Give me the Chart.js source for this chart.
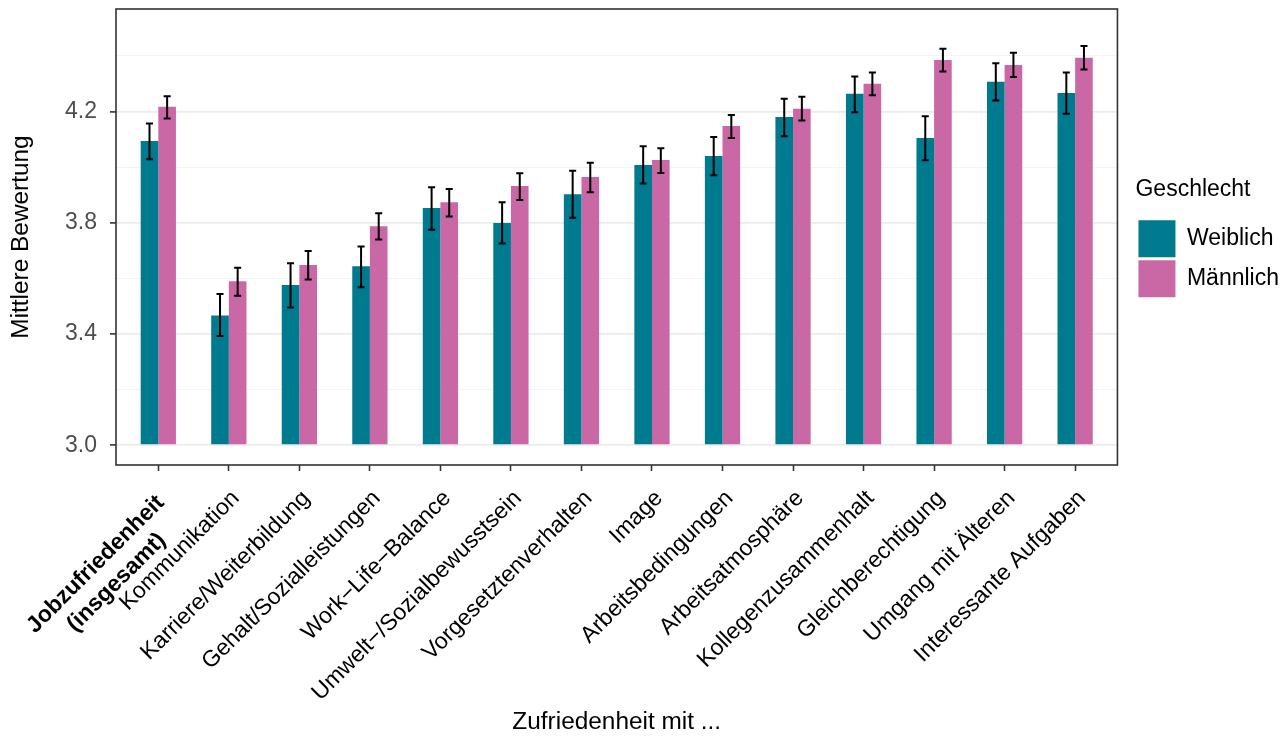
<!DOCTYPE html>
<html>
<head>
<meta charset="utf-8">
<script src="https://cdn.jsdelivr.net/npm/chart.js@4"></script>
<style>
  html, body { margin: 0; padding: 0; background: #fff; }
  #wrap { width: 1284px; height: 738px; }
</style>
</head>
<body>
<div id="wrap"><canvas id="chart" width="1284" height="738"></canvas></div>
<script>
// categories, left to right (trailing spaces centre the two lines of the first label)
var categories = [
  ['Jobzufriedenheit ', '(insgesamt)     '],
  'Kommunikation',
  'Karriere/Weiterbildung',
  'Gehalt/Sozialleistungen',
  'Work\u2212Life\u2212Balance',
  'Umwelt\u2212/Sozialbewusstsein',
  'Vorgesetztenverhalten',
  'Image',
  'Arbeitsbedingungen',
  'Arbeitsatmosphäre',
  'Kollegenzusammenhalt',
  'Gleichberechtigung',
  'Umgang mit Älteren',
  'Interessante Aufgaben'
];
var seriesNames = ['Weiblich', 'Männlich'];

// mean ratings
var weiblich  = [4.094, 3.467, 3.576, 3.644, 3.853, 3.799, 3.903, 4.008, 4.040, 4.181, 4.264, 4.105, 4.307, 4.267];
var maennlich = [4.217, 3.590, 3.648, 3.788, 3.874, 3.932, 3.965, 4.026, 4.148, 4.210, 4.300, 4.386, 4.368, 4.394];

// error bar ends
var weiblichLo  = [4.029, 3.393, 3.495, 3.568, 3.775, 3.726, 3.818, 3.941, 3.971, 4.111, 4.198, 4.025, 4.240, 4.192];
var weiblichHi  = [4.157, 3.544, 3.655, 3.715, 3.928, 3.874, 3.987, 4.075, 4.109, 4.246, 4.326, 4.183, 4.374, 4.341];
var maennlichLo = [4.175, 3.538, 3.596, 3.740, 3.823, 3.882, 3.910, 3.979, 4.105, 4.168, 4.259, 4.344, 4.324, 4.351];
var maennlichHi = [4.255, 3.638, 3.699, 3.834, 3.922, 3.978, 4.016, 4.068, 4.188, 4.253, 4.341, 4.426, 4.412, 4.436];

// y axis ticks (labelled ones get a number, the others are minor grid lines)
var yTicks = [3.0, 3.2, 3.4, 3.6, 3.8, 4.0, 4.2, 4.4];
var yTickLabels = ['3.0', '3.4', '3.8', '4.2'];

var colors = ['#007A8E', '#CA68A5'];

Chart.defaults.font.family = "'Liberation Sans', Arial, sans-serif";
Chart.defaults.color = '#000';

function isMajor(v) {
  return yTickLabels.indexOf(v.toFixed(1)) >= 0;
}

var errorBars = {
  id: 'errorBars',
  afterDatasetsDraw: function (chart) {
    var ctx = chart.ctx;
    var y = chart.scales.y;
    var ends = [[weiblichLo, weiblichHi], [maennlichLo, maennlichHi]];
    ctx.save();
    ctx.strokeStyle = '#000';
    ctx.lineWidth = 2;
    ends.forEach(function (pair, i) {
      var meta = chart.getDatasetMeta(i);
      meta.data.forEach(function (bar, j) {
        var x = bar.x;
        var top = y.getPixelForValue(pair[1][j]);
        var bottom = y.getPixelForValue(pair[0][j]);
        var half = bar.width * 0.2;
        ctx.beginPath();
        ctx.moveTo(x, top); ctx.lineTo(x, bottom);
        ctx.moveTo(x - half, top); ctx.lineTo(x + half, top);
        ctx.moveTo(x - half, bottom); ctx.lineTo(x + half, bottom);
        ctx.stroke();
      });
    });
    ctx.restore();
  }
};

var panelBorder = {
  id: 'panelBorder',
  afterDraw: function (chart) {
    var a = chart.chartArea;
    var ctx = chart.ctx;
    ctx.save();
    ctx.strokeStyle = '#333333';
    ctx.lineWidth = 1.6;
    ctx.strokeRect(a.left, a.top, a.right - a.left, a.bottom - a.top);
    ctx.restore();
  }
};

new Chart(document.getElementById('chart'), {
  type: 'bar',
  data: {
    datasets: [{
      label: seriesNames[0],
      data: weiblich.map(function (v, i) { return { x: i, y: v }; }),
      backgroundColor: colors[0],
      borderWidth: 0,
      base: 3
    }, {
      label: seriesNames[1],
      data: maennlich.map(function (v, i) { return { x: i, y: v }; }),
      backgroundColor: colors[1],
      borderWidth: 0,
      base: 3
    }]
  },
  options: {
    responsive: false,
    animation: false,
    devicePixelRatio: 1,
    categoryPercentage: 0.5,
    barPercentage: 1.0,
    layout: { padding: { top: 9, right: -5, left: 0, bottom: 0 } },
    plugins: {
      tooltip: { enabled: false },
      legend: {
        position: 'right',
        fullSize: false,
        labels: {
          boxWidth: 37,
          boxHeight: 37,
          padding: 3,
          color: '#000',
          font: { size: 23 }
        },
        title: {
          display: true,
          text: 'Geschlecht',
          position: 'start',
          color: '#000',
          font: { size: 23 },
          padding: { top: 4, bottom: 12 }
        }
      }
    },
    scales: {
      x: {
        type: 'linear',
        offset: false,
        min: -0.6,
        max: 13.6,
        afterBuildTicks: function (axis) {
          axis.ticks = categories.map(function (c, i) { return { value: i }; });
        },
        afterFit: function (axis) {
          axis.height = 273;
          axis.paddingLeft = 0;
          axis.paddingRight = 0;
        },
        grid: {
          offset: false,
          drawOnChartArea: false,
          drawTicks: true,
          tickLength: 6,
          tickColor: '#333333',
          tickWidth: 1.6
        },
        border: { display: false },
        ticks: {
          autoSkip: false,
          minRotation: 45,
          maxRotation: 45,
          padding: 14,
          labelOffset: 7,
          color: '#000',
          font: function (c) {
            return c.index === 0 ? { size: 23, weight: 'bold', lineHeight: 1.2 } : { size: 23 };
          },
          callback: function (v) { return categories[v]; }
        },
        title: {
          display: true,
          text: 'Zufriedenheit mit ...',
          color: '#000',
          font: { size: 24.4 },
          padding: { top: 0, bottom: 1 }
        }
      },
      y: {
        min: 2.929,
        max: 4.569,
        afterBuildTicks: function (axis) {
          axis.ticks = yTicks.map(function (v) { return { value: v }; });
        },
        afterFit: function (axis) {
          axis.width = 116;
          axis.paddingTop = 0;
          axis.paddingBottom = 0;
        },
        grid: {
          color: function (c) { return isMajor(c.tick.value) ? '#EBEBEB' : '#F2F2F2'; },
          lineWidth: function (c) { return isMajor(c.tick.value) ? 1.8 : 0.9; },
          drawTicks: true,
          tickLength: 6,
          tickColor: function (c) { return isMajor(c.tick.value) ? '#333333' : 'rgba(0,0,0,0)'; },
          tickWidth: 1.6
        },
        border: { display: false },
        ticks: {
          padding: 13,
          color: '#4D4D4D',
          font: { size: 23 },
          callback: function (v) { return isMajor(v) ? v.toFixed(1) : ''; }
        },
        title: {
          display: true,
          text: 'Mittlere Bewertung',
          color: '#000',
          font: { size: 24.4 },
          padding: { top: 7, bottom: 0 }
        }
      },
      gap: {
        axis: 'y',
        position: 'right',
        display: true,
        afterFit: function (axis) {
          axis.width = 18;
          axis.paddingTop = 0;
          axis.paddingBottom = 0;
        },
        grid: { display: false },
        border: { display: false },
        ticks: { display: false }
      }
    }
  },
  plugins: [errorBars, panelBorder]
});
</script>
</body>
</html>
